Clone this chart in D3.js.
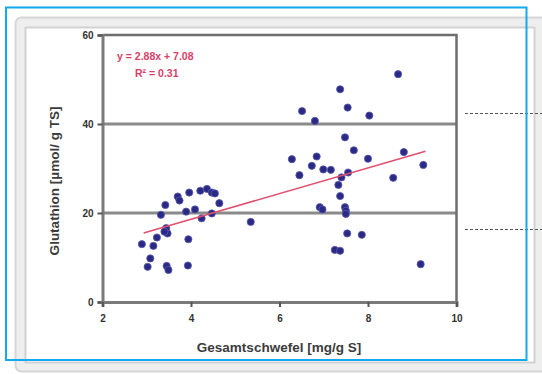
<!DOCTYPE html>
<html>
<head>
<meta charset="utf-8">
<script src="https://cdn.jsdelivr.net/npm/d3@7"></script>
<style>
  html, body { margin: 0; padding: 0; background: #ffffff; }
  svg { display: block; font-family: "Liberation Sans", Arial, sans-serif; }
</style>
</head>
<body>
<div id="chart"></div>
<script>
// Gesamtschwefel [mg/g S] (x) vs Glutathion [µmol/ g TS] (y)
const sulfur = [
  2.89, 3.02, 3.08, 3.15, 3.23, 3.32, 3.42, 3.44, 3.47, 3.40, 3.45, 3.49, 3.70, 3.74,
  3.96, 3.89, 3.94, 3.93, 4.09, 4.21, 4.24, 4.36, 4.47, 4.54, 4.47, 4.64, 5.35,
  6.28, 6.45, 6.51, 6.73, 6.84, 6.80, 6.99, 7.16, 6.91, 6.97, 7.25, 7.37, 7.33,
  7.37, 7.40, 7.37, 7.48, 7.54, 7.48, 7.50, 7.50, 7.55, 7.53, 7.68, 7.86, 8.03,
  8.00, 8.57, 8.68, 8.81, 9.25, 9.19
];
const glutathione = [
  13.0, 7.9, 9.8, 12.6, 14.5, 19.6, 21.8, 16.6, 15.4, 15.8, 8.1, 7.2, 23.7, 22.8,
  24.6, 20.3, 14.1, 8.2, 20.8, 25.0, 18.8, 25.4, 24.6, 24.4, 19.9, 22.2, 18.0,
  32.1, 28.5, 42.9, 30.6, 32.7, 40.7, 29.8, 29.7, 21.3, 20.8, 11.7, 11.5, 26.3,
  23.8, 28.0, 47.8, 37.0, 43.7, 21.3, 20.5, 19.8, 29.1, 15.4, 34.1, 15.1, 41.9,
  32.2, 27.9, 51.2, 33.7, 30.8, 8.5
];

// Linear trend as printed on the chart, drawn over the range of the data
const trendSlope = 2.88;
const trendIntercept = 7.08;
const trendRange = [2.93, 9.30];
const trendLabels = ['y = 2.88x + 7.08', 'R\u00B2 = 0.31'];

const xTicks = [2, 4, 6, 8, 10];
const yTicks = [0, 20, 40, 60];
const gridValues = [20, 40];

const width = 542;
const height = 374;

const svg = d3.select('#chart')
  .append('svg')
  .attr('width', width)
  .attr('height', height);

// --- Page frame (grey panel + blue selection box) ---
svg.append('rect')
  .attr('x', 15.5).attr('y', 17.5)
  .attr('width', 540).attr('height', 354)
  .attr('rx', 6)
  .attr('fill', '#eeeeee')
  .attr('stroke', '#d6d6d6')
  .attr('stroke-width', 2);

svg.append('rect')
  .attr('x', 25.5).attr('y', 27.5)
  .attr('width', 509).attr('height', 335)
  .attr('fill', '#ffffff')
  .attr('stroke', '#d2d2d2')
  .attr('stroke-width', 2);

// Dotted leader lines leaving the chart on the right
[113.5, 229.5].forEach(yy => {
  svg.append('line')
    .attr('x1', 465).attr('x2', width)
    .attr('y1', yy).attr('y2', yy)
    .attr('stroke', '#555')
    .attr('stroke-width', 1)
    .attr('stroke-dasharray', '3,2');
});

// --- Scales ---
const x = d3.scaleLinear().domain([2, 10]).range([102.5, 456.5]);
const y = d3.scaleLinear().domain([0, 60]).range([302, 35]);

const plot = svg.append('g');

// Horizontal gridlines
plot.selectAll('.grid')
  .data(gridValues)
  .enter()
  .append('line')
  .attr('class', 'grid')
  .attr('x1', x(2)).attr('x2', x(10))
  .attr('y1', d => y(d)).attr('y2', d => y(d))
  .attr('stroke', '#8a8a8a')
  .attr('stroke-width', 3);

// Top and right border of plot area
plot.append('path')
  .attr('d', `M${x(2)},${y(60)}H${x(10)}V${y(0)}`)
  .attr('fill', 'none')
  .attr('stroke', '#6e6e6e')
  .attr('stroke-width', 2.5);

// --- Axes ---
const yAxis = d3.axisLeft(y).tickValues(yTicks).tickSize(5).tickPadding(4);
const xAxis = d3.axisBottom(x).tickValues(xTicks).tickSize(5).tickPadding(8);

svg.append('g')
  .attr('transform', `translate(${x(2)},0)`)
  .call(yAxis)
  .call(g => g.select('.domain').attr('stroke', '#7a7a7a').attr('stroke-width', 3))
  .call(g => g.selectAll('.tick line').attr('stroke', '#555').attr('stroke-width', 2))
  .call(g => g.selectAll('.tick text')
    .attr('fill', '#333')
    .style('font-size', '10px')
    .style('font-weight', 'bold'));

svg.append('g')
  .attr('transform', `translate(0,${y(0)})`)
  .call(xAxis)
  .call(g => g.select('.domain').attr('stroke', '#7a7a7a').attr('stroke-width', 3))
  .call(g => g.selectAll('.tick line').attr('stroke', '#555').attr('stroke-width', 2))
  .call(g => g.selectAll('.tick text')
    .attr('fill', '#333')
    .style('font-size', '10px')
    .style('font-weight', 'bold'));

// Axis titles
svg.append('text')
  .attr('x', 279)
  .attr('y', 352)
  .attr('text-anchor', 'middle')
  .attr('fill', '#3c3c3c')
  .style('font-size', '13.5px')
  .style('font-weight', 'bold')
  .text('Gesamtschwefel [mg/g S]');

svg.append('text')
  .attr('transform', 'translate(59,181) rotate(-90)')
  .attr('text-anchor', 'middle')
  .attr('fill', '#3c3c3c')
  .style('font-size', '13.5px')
  .style('font-weight', 'bold')
  .text('Glutathion [\u00B5mol/ g TS]');

// --- Points ---
const points = sulfur.map((s, i) => ({ s, g: glutathione[i] }));

plot.selectAll('circle')
  .data(points)
  .enter()
  .append('circle')
  .attr('cx', d => x(d.s))
  .attr('cy', d => y(d.g))
  .attr('r', 3.6)
  .attr('fill', '#2a2a86')
  .attr('stroke', '#5a5aa8')
  .attr('stroke-width', 0.8);

// --- Trend line ---
const trend = d3.line()
  .x(d => x(d))
  .y(d => y(trendSlope * d + trendIntercept));

plot.append('path')
  .datum(trendRange)
  .attr('fill', 'none')
  .attr('stroke', '#e0506e')
  .attr('stroke-width', 1.5)
  .attr('d', trend);

// Equation labels
svg.selectAll('.eq')
  .data(trendLabels)
  .enter()
  .append('text')
  .attr('class', 'eq')
  .attr('x', (d, i) => i === 0 ? 117 : 135)
  .attr('y', (d, i) => i === 0 ? 60 : 77)
  .attr('fill', '#d8406a')
  .style('font-size', '10.5px')
  .style('font-weight', 'bold')
  .text(d => d);

// --- Blue selection frame on top ---
svg.append('rect')
  .attr('x', 6).attr('y', 7.5)
  .attr('width', 520.5).attr('height', 352.5)
  .attr('fill', 'none')
  .attr('stroke', '#12aaee')
  .attr('stroke-width', 2);
</script>
</body>
</html>
